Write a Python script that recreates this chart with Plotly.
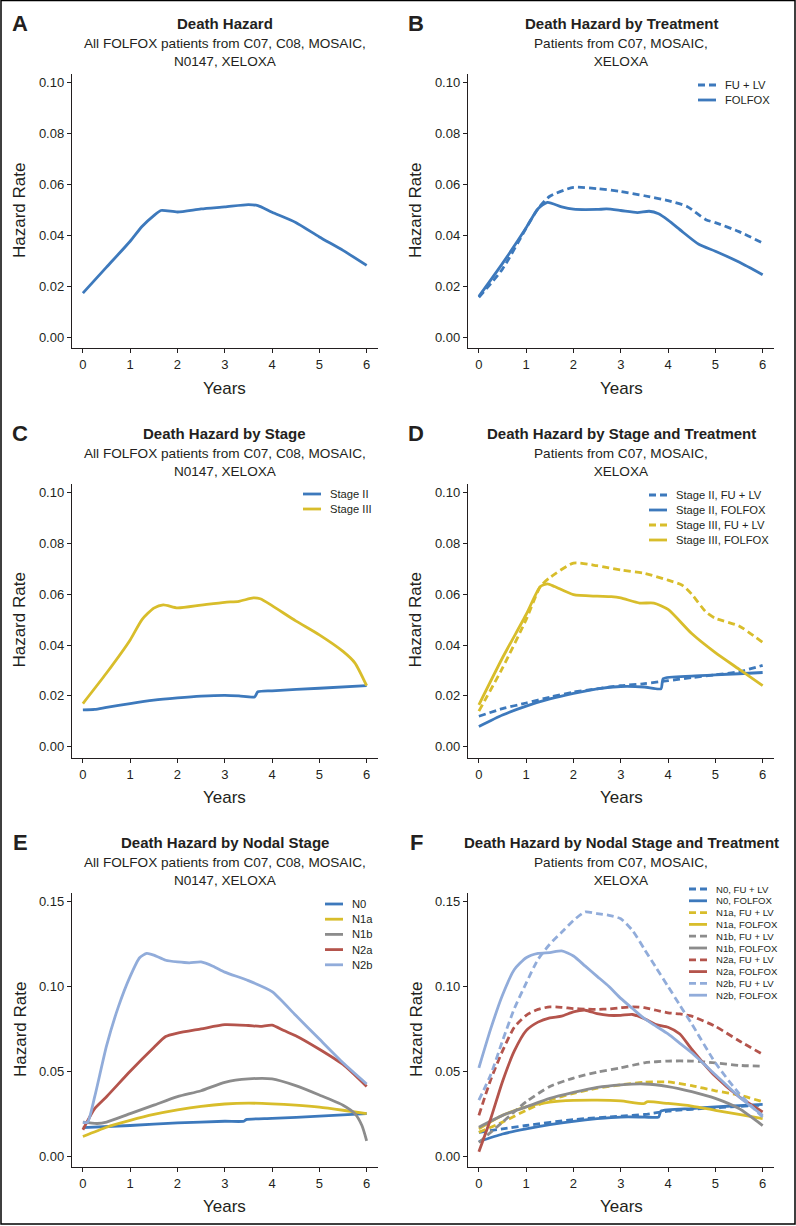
import plotly.graph_objects as go

W, H = 796, 1226

BLUE = "#3d79bc"
YELLOW = "#d8bd2b"
GRAY = "#8c8c8c"
RED = "#b4544c"
LBLUE = "#91acda"
INK = "#231f20"
FONT = "Liberation Sans, Arial, sans-serif"

# ---------- data ----------
# A: death hazard, all FOLFOX
a_years = [0, 0.5, 1, 1.25, 1.5, 1.65, 2, 2.5, 3, 3.5, 3.7, 4, 4.5, 5, 5.5, 6]
a_all = [0.0173, 0.0275, 0.0377, 0.0435, 0.0478, 0.0498, 0.0492, 0.0504, 0.0512, 0.0521, 0.0517,
         0.0491, 0.0451, 0.0394, 0.0341, 0.0282]

# B: by treatment
b_years_fulv = [0, 0.5, 1, 1.25, 1.5, 2, 2.5, 3, 3.5, 4, 4.4, 4.8, 5, 5.5, 6]
b_fulv = [0.0156, 0.0268, 0.0429, 0.0505, 0.0554, 0.0589, 0.0584, 0.0573, 0.0556, 0.0537,
          0.0514, 0.0462, 0.0450, 0.0415, 0.0370]
b_years_folfox = [0, 0.5, 1, 1.25, 1.45, 1.75, 2, 2.5, 2.7, 3, 3.35, 3.6, 3.8, 4, 4.3, 4.65, 5, 5.5, 6]
b_folfox = [0.0160, 0.0290, 0.0430, 0.0505, 0.0530, 0.0512, 0.0503, 0.0502, 0.0504, 0.0498,
            0.0490, 0.0495, 0.0485, 0.0460, 0.0415, 0.0365, 0.0338, 0.0295, 0.0245]

# C: by stage
c_years_s2 = [0, 0.25, 0.5, 1, 1.5, 2, 2.5, 3, 3.3, 3.63, 3.7, 4, 5, 6]
c_stage2 = [0.0145, 0.0147, 0.0155, 0.0170, 0.0183, 0.0192, 0.0199, 0.0202, 0.0200, 0.0196,
            0.0216, 0.0220, 0.0230, 0.0240]
c_years_s3 = [0, 0.5, 1, 1.25, 1.5, 1.7, 2, 2.5, 3, 3.3, 3.6, 3.75, 4, 4.5, 5, 5.5, 5.75, 6]
c_stage3 = [0.0170, 0.0290, 0.0420, 0.0500, 0.0545, 0.0558, 0.0546, 0.0557, 0.0568, 0.0572,
            0.0585, 0.0582, 0.0555, 0.0495, 0.0440, 0.0375, 0.0330, 0.0240]

# D: by stage and treatment
d_years = [0, 0.5, 1, 1.5, 2, 2.5, 3, 3.5, 4, 4.5, 5, 5.5, 6]
d_s2_fulv = [0.0120, 0.0150, 0.0172, 0.0195, 0.0215, 0.0228, 0.0240, 0.0248, 0.0260, 0.0272,
             0.0283, 0.0295, 0.0320]
d_years_s2_folfox = [0, 0.5, 1, 1.5, 2, 2.5, 3, 3.5, 3.85, 3.9, 4.5, 5, 5.5, 6]
d_s2_folfox = [0.0080, 0.0125, 0.0160, 0.0188, 0.0210, 0.0228, 0.0237, 0.0235, 0.0228, 0.0268,
               0.0278, 0.0283, 0.0287, 0.0292]
d_years_s3_fulv = [0, 0.5, 1, 1.3, 1.5, 2, 2.5, 3, 3.5, 4, 4.3, 4.5, 4.8, 5, 5.5, 6]
d_s3_fulv = [0.0140, 0.0310, 0.0500, 0.0630, 0.0665, 0.0722, 0.0712, 0.0695, 0.0682, 0.0655,
             0.0635, 0.0600, 0.0530, 0.0505, 0.0475, 0.0410]
d_years_s3_folfox = [0, 0.5, 1, 1.3, 1.45, 1.6, 2, 2.5, 2.8, 3, 3.4, 3.7, 4, 4.5, 5, 5.5, 6]
d_s3_folfox = [0.0165, 0.0350, 0.0520, 0.0630, 0.0640, 0.0630, 0.0598, 0.0592, 0.0590, 0.0585,
               0.0565, 0.0565, 0.0540, 0.0445, 0.0370, 0.0305, 0.0240]

# E: by nodal stage
e_years_n0 = [0, 1, 2, 3, 3.4, 3.45, 4, 5, 6]
e_n0 = [0.0167, 0.0180, 0.0195, 0.0205, 0.0205, 0.0215, 0.0222, 0.0235, 0.0250]
e_years = [0, 0.5, 1, 1.5, 2, 2.5, 3, 3.5, 4, 4.5, 5, 5.5, 6]
e_n1a = [0.0115, 0.0170, 0.0210, 0.0245, 0.0272, 0.0293, 0.0307, 0.0312, 0.0308, 0.0300,
         0.0288, 0.0270, 0.0250]
e_years_n1b = [0, 0.3, 0.5, 1, 1.5, 2, 2.5, 3, 3.5, 4, 4.5, 5, 5.5, 5.75, 5.9, 6]
e_n1b = [0.0200, 0.0192, 0.0200, 0.0250, 0.0300, 0.0350, 0.0385, 0.0435, 0.0455, 0.0455,
         0.0415, 0.0360, 0.0300, 0.0250, 0.0180, 0.0090]
e_years_n2a = [0, 0.25, 0.5, 1, 1.5, 1.75, 2, 2.5, 3, 3.5, 3.75, 4, 4.25, 4.5, 5, 5.5, 6]
e_n2a = [0.0155, 0.0280, 0.0350, 0.0500, 0.0640, 0.0705, 0.0725, 0.0750, 0.0775, 0.0770,
         0.0765, 0.0772, 0.0740, 0.0710, 0.0630, 0.0540, 0.0410]
e_years_n2b = [0, 0.1, 0.25, 0.5, 0.75, 1, 1.2, 1.35, 1.5, 1.75, 2, 2.25, 2.5, 2.75, 3, 3.5, 4,
               4.5, 5, 5.5, 6]
e_n2b = [0.0197, 0.0200, 0.0350, 0.0650, 0.0880, 0.1060, 0.1170, 0.1195, 0.1185, 0.1155, 0.1145,
         0.1140, 0.1145, 0.1120, 0.1085, 0.1035, 0.0970, 0.0830, 0.0690, 0.0550, 0.0425]

# F: by nodal stage and treatment
f_years = [0, 0.5, 1, 1.5, 2, 2.5, 3, 3.5, 4, 4.5, 5, 5.5, 6]
f_years_q = [0, 0.25, 0.5, 0.75, 1, 1.25, 1.5, 1.75, 2, 2.25, 2.5, 2.75, 3, 3.25, 3.5, 3.75, 4,
             4.25, 4.5, 5, 5.5, 6]
f_years_n0 = [0, 0.5, 1, 2, 3, 3.5, 4, 5, 6]
f_n0_fulv = [0.0140, 0.0160, 0.0180, 0.0215, 0.0235, 0.0245, 0.0265, 0.0285, 0.0300]
f_years_n0_folfox = [0, 0.5, 1, 1.5, 2, 2.5, 3, 3.5, 3.8, 3.85, 4.5, 5, 5.5, 6]
f_n0_folfox = [0.0085, 0.0130, 0.0160, 0.0185, 0.0205, 0.0220, 0.0230, 0.0230, 0.0230, 0.0265,
               0.0280, 0.0290, 0.0297, 0.0305]
f_n1a_fulv = [0.0140, 0.0200, 0.0270, 0.0330, 0.0370, 0.0400, 0.0420, 0.0435, 0.0437, 0.0415,
              0.0385, 0.0360, 0.0320]
f_years_n1a_folfox = [0, 0.5, 1, 1.5, 2, 2.5, 3, 3.5, 3.55, 4, 4.5, 5, 5.5, 6]
f_n1a_folfox = [0.0160, 0.0240, 0.0290, 0.0318, 0.0328, 0.0330, 0.0325, 0.0310, 0.0320, 0.0310,
                0.0295, 0.0270, 0.0245, 0.0220]
f_n1b_fulv = [0.0080, 0.0200, 0.0320, 0.0410, 0.0460, 0.0495, 0.0520, 0.0550, 0.0560, 0.0560,
              0.0550, 0.0535, 0.0530]
f_n1b_folfox = [0.0170, 0.0240, 0.0290, 0.0340, 0.0375, 0.0405, 0.0420, 0.0425, 0.0410, 0.0380,
                0.0340, 0.0280, 0.0180]
f_n2a_fulv = [0.0240, 0.0450, 0.0620, 0.0760, 0.0830, 0.0865, 0.0880, 0.0877, 0.0870, 0.0867,
              0.0865, 0.0868, 0.0875, 0.0880, 0.0875, 0.0860, 0.0845, 0.0838, 0.0825, 0.0765,
              0.0680, 0.0600]
f_n2a_folfox = [0.0025, 0.0220, 0.0440, 0.0620, 0.0740, 0.0790, 0.0815, 0.0825, 0.0850, 0.0860,
                0.0840, 0.0830, 0.0830, 0.0835, 0.0810, 0.0775, 0.0760, 0.0720, 0.0630, 0.0470,
                0.0350, 0.0260]
f_n2b_fulv = [0.0330, 0.0480, 0.0680, 0.0870, 0.1020, 0.1160, 0.1250, 0.1320, 0.1390, 0.1440,
              0.1430, 0.1420, 0.1400, 0.1330, 0.1220, 0.1110, 0.1000, 0.0890, 0.0780, 0.0550,
              0.0370, 0.0230]
f_n2b_folfox = [0.0520, 0.0750, 0.0950, 0.1100, 0.1170, 0.1195, 0.1200, 0.1210, 0.1180, 0.1120,
                0.1060, 0.1000, 0.0930, 0.0870, 0.0810, 0.0765, 0.0720, 0.0665, 0.0610, 0.0480,
                0.0350, 0.0240]

SUB_ALL = "All FOLFOX patients from C07, C08, MOSAIC,<br>N0147, XELOXA"
SUB_TRT = "Patients from C07, MOSAIC,<br>XELOXA"

panels = [
    dict(letter="A", title="Death Hazard", sub=SUB_ALL, col=0, row=0, series=[
        ("All", a_years, a_all, BLUE, "solid")], legend=None),
    dict(letter="B", title="Death Hazard by Treatment", sub=SUB_TRT, col=1, row=0, series=[
        ("FU + LV", b_years_fulv, b_fulv, BLUE, "dash"),
        ("FOLFOX", b_years_folfox, b_folfox, BLUE, "solid")],
        legend=dict(tx=723, y0=85, step=15, size=11.2)),
    dict(letter="C", title="Death Hazard by Stage", sub=SUB_ALL, col=0, row=1, series=[
        ("Stage II", c_years_s2, c_stage2, BLUE, "solid"),
        ("Stage III", c_years_s3, c_stage3, YELLOW, "solid")],
        legend=dict(tx=328, y0=494, step=15, size=11.2)),
    dict(letter="D", title="Death Hazard by Stage and Treatment", sub=SUB_TRT, col=1, row=1, series=[
        ("Stage II, FU + LV", d_years, d_s2_fulv, BLUE, "dash"),
        ("Stage II, FOLFOX", d_years_s2_folfox, d_s2_folfox, BLUE, "solid"),
        ("Stage III, FU + LV", d_years_s3_fulv, d_s3_fulv, YELLOW, "dash"),
        ("Stage III, FOLFOX", d_years_s3_folfox, d_s3_folfox, YELLOW, "solid")],
        legend=dict(tx=674, y0=495, step=15, size=11.2)),
    dict(letter="E", title="Death Hazard by Nodal Stage", sub=SUB_ALL, col=0, row=2, series=[
        ("N0", e_years_n0, e_n0, BLUE, "solid"),
        ("N1a", e_years, e_n1a, YELLOW, "solid"),
        ("N1b", e_years_n1b, e_n1b, GRAY, "solid"),
        ("N2a", e_years_n2a, e_n2a, RED, "solid"),
        ("N2b", e_years_n2b, e_n2b, LBLUE, "solid")],
        legend=dict(tx=350, y0=904, step=15.2, size=11.2)),
    dict(letter="F", title="Death Hazard by Nodal Stage and Treatment", sub=SUB_TRT, col=1, row=2, series=[
        ("N0, FU + LV", f_years_n0, f_n0_fulv, BLUE, "dash"),
        ("N0, FOLFOX", f_years_n0_folfox, f_n0_folfox, BLUE, "solid"),
        ("N1a, FU + LV", f_years, f_n1a_fulv, YELLOW, "dash"),
        ("N1a, FOLFOX", f_years_n1a_folfox, f_n1a_folfox, YELLOW, "solid"),
        ("N1b, FU + LV", f_years, f_n1b_fulv, GRAY, "dash"),
        ("N1b, FOLFOX", f_years, f_n1b_folfox, GRAY, "solid"),
        ("N2a, FU + LV", f_years_q, f_n2a_fulv, RED, "dash"),
        ("N2a, FOLFOX", f_years_q, f_n2a_folfox, RED, "solid"),
        ("N2b, FU + LV", f_years_q, f_n2b_fulv, LBLUE, "dash"),
        ("N2b, FOLFOX", f_years_q, f_n2b_folfox, LBLUE, "solid")],
        legend=dict(tx=714, y0=889, step=11.8, size=9.6)),
]

# layout geometry in pixels
col_x = [(72, 378), (468, 774)]
row_y = [(74, 348), (483.5, 757.7), (893.3, 1166.7)]
row_off = [0, 410, 819]
row_yrange = [[-0.0043, 0.1035], [-0.0043, 0.1035], [-0.0063, 0.155]]
row_ticks = [[0, 0.02, 0.04, 0.06, 0.08, 0.10]] * 2 + [[0, 0.05, 0.10, 0.15]]
DASH = "7px,4px"
LW = 2.8


def px(x):
    return x / W


def py(y):
    return 1 - y / H


fig = go.Figure()
annotations = []
shapes = [dict(type="rect", xref="paper", yref="paper", x0=px(1), x1=px(795), y0=py(1224), y1=py(0.5),
               line=dict(color="black", width=1.5))]
layout = {}

for i, p in enumerate(panels):
    n = i + 1
    xa = "x" if n == 1 else f"x{n}"
    ya = "y" if n == 1 else f"y{n}"
    c, r = p["col"], p["row"]
    x0, x1 = col_x[c]
    y0, y1 = row_y[r]
    for name, xs, ys, color, dash in p["series"]:
        fig.add_trace(go.Scatter(
            x=xs, y=ys, name=name, mode="lines", xaxis=xa, yaxis=ya, showlegend=False,
            line=dict(color=color, width=LW, dash=DASH if dash == "dash" else "solid",
                      shape="spline", smoothing=0.6)))
    axis_common = dict(showline=True, linecolor=INK, linewidth=1.4, ticks="outside", ticklen=4,
                       tickwidth=1.2, tickcolor=INK, showgrid=False, zeroline=False,
                       tickfont=dict(size=13, color=INK, family=FONT))
    layout["xaxis" if n == 1 else f"xaxis{n}"] = dict(
        domain=[px(x0), px(x1)], range=[-0.23, 6.24], anchor=ya, tickvals=[0, 1, 2, 3, 4, 5, 6],
        **axis_common)
    layout["yaxis" if n == 1 else f"yaxis{n}"] = dict(
        domain=[py(y1), py(y0)], range=row_yrange[r], anchor=xa, tickvals=row_ticks[r],
        tickformat=".2f", **axis_common)

    cx = (x0 + x1) / 2
    off = row_off[r]
    left = 396 * c
    annotations += [
        dict(text=f"<b>{p['letter']}</b>", x=px(left + 20), y=py(23 + off), font=dict(size=22)),
        dict(text=f"<b>{p['title']}</b>", x=px(cx), y=py(23 + off), font=dict(size=15)),
        dict(text=p["sub"], x=px(cx), y=py(53 + off), font=dict(size=13.6)),
        dict(text="Hazard Rate", x=px(left + 20), y=py((y0 + y1) / 2), textangle=-90,
             font=dict(size=17)),
        dict(text="Years", x=px(cx), y=py(y1 + 40), font=dict(size=17)),
    ]

    lg = p["legend"]
    if lg:
        for k, (name, xs, ys, color, dash) in enumerate(p["series"]):
            ey = lg["y0"] + k * lg["step"]
            shapes.append(dict(type="line", xref="paper", yref="paper",
                               x0=px(lg["tx"] - 25), x1=px(lg["tx"] - 7), y0=py(ey), y1=py(ey),
                               line=dict(color=color, width=LW,
                                         dash=DASH if dash == "dash" else "solid")))
            annotations.append(dict(text=name, x=px(lg["tx"]), y=py(ey), xanchor="left",
                                    font=dict(size=lg["size"])))

for a in annotations:
    a.setdefault("xref", "paper")
    a.setdefault("yref", "paper")
    a.setdefault("showarrow", False)
    a.setdefault("xanchor", "center")
    a.setdefault("yanchor", "middle")
    a["font"] = dict(dict(family=FONT, color=INK), **a["font"])

fig.update_layout(
    width=W, height=H, margin=dict(l=0, r=0, t=0, b=0),
    paper_bgcolor="white", plot_bgcolor="white",
    font=dict(family=FONT, color=INK),
    annotations=annotations, shapes=shapes, showlegend=False,
    **layout)

fig.write_html("out.html", config={"displayModeBar": False},
               post_script="document.body.style.margin='0';")
